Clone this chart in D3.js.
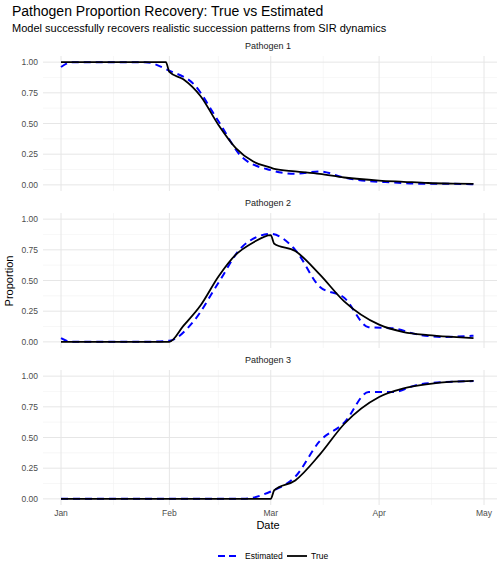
<!DOCTYPE html>
<html><head><meta charset="utf-8">
<script src="https://cdn.jsdelivr.net/npm/d3@7"></script>
<style>body{margin:0;background:#fff;font-family:"Liberation Sans",Arial,sans-serif}</style>
</head><body><svg id="c" width="504" height="576"></svg>
<script>
// data
const pathogens = ["Pathogen 1", "Pathogen 2", "Pathogen 3"];
const trueDates = ["2024-01-01","2024-01-15","2024-01-31","2024-02-01","2024-02-05","2024-02-10","2024-02-15","2024-02-20","2024-02-25","2024-03-01","2024-03-02","2024-03-08","2024-03-15","2024-03-22","2024-04-01","2024-04-08","2024-04-15","2024-04-22","2024-04-28"];
const trueP1 = [1,1,1,0.92,0.86,0.72,0.49,0.3,0.19,0.14,0.13,0.11,0.09,0.06,0.035,0.025,0.015,0.01,0.008];
const trueP2 = [0,0,0,0,0.13,0.30,0.53,0.71,0.81,0.87,0.80,0.74,0.55,0.33,0.14,0.08,0.055,0.04,0.03];
const trueP3 = [0,0,0,0,0,0,0,0,0,0,0.07,0.15,0.36,0.61,0.83,0.90,0.935,0.955,0.962];
const estDates = ["2024-01-01","2024-01-04","2024-01-11","2024-01-18","2024-01-25","2024-02-01","2024-02-08","2024-02-15","2024-02-22","2024-03-01","2024-03-08","2024-03-15","2024-03-22","2024-03-29","2024-04-05","2024-04-12","2024-04-19","2024-04-28"];
const estP1 = [0.96,1,1,1,1,0.93,0.82,0.52,0.22,0.12,0.09,0.11,0.06,0.03,0.02,0.01,0.01,0.005];
const estP2 = [0.03,0,0,0,0,0.01,0.17,0.48,0.78,0.88,0.75,0.45,0.36,0.12,0.11,0.06,0.04,0.05];
const estP3 = [0,0,0,0,0,0,0,0,0,0.06,0.18,0.47,0.62,0.87,0.87,0.93,0.95,0.96];
const xTicks = ["2024-01-01","2024-02-01","2024-03-01","2024-04-01","2024-05-01"];
const xLabels = ["Jan","Feb","Mar","Apr","May"];
const yTicks = [0,0.25,0.5,0.75,1];

const pd = d3.timeParse("%Y-%m-%d");
const trueSeries = [trueP1, trueP2, trueP3];
const estSeries = [estP1, estP2, estP3];
const svg = d3.select("#c");

svg.append("text").attr("x",12).attr("y",16).attr("font-size",14).attr("fill","#000").text("Pathogen Proportion Recovery: True vs Estimated");
svg.append("text").attr("x",12).attr("y",32).attr("font-size",11).attr("fill","#000").text("Model successfully recovers realistic succession patterns from SIR dynamics");

const x = d3.scaleTime().domain([pd("2024-01-01"), pd("2024-05-01")]).range([61, 484]);
const panelTops = [56, 213, 370];
const ph = 135;

pathogens.forEach(function(name, i) {
  const top = panelTops[i];
  const y = d3.scaleLinear().domain([-0.05, 1.05]).range([top + ph, top]);
  const g = svg.append("g");
  g.append("text").attr("x",268).attr("y",top-7).attr("text-anchor","middle").attr("font-size",9).attr("fill","#1a1a1a").text(name);
  // grid
  const minor = [0.125,0.375,0.625,0.875];
  g.selectAll(".ym").data(minor).enter().append("line").attr("x1",43).attr("x2",497)
    .attr("y1",d=>y(d)).attr("y2",d=>y(d)).attr("stroke","#f2f2f2").attr("stroke-width",0.6);
  const xm = ["2024-01-16","2024-02-15","2024-03-16","2024-04-16"].map(pd);
  g.selectAll(".xm").data(xm).enter().append("line").attr("y1",top).attr("y2",top+ph)
    .attr("x1",d=>x(d)).attr("x2",d=>x(d)).attr("stroke","#f2f2f2").attr("stroke-width",0.6);
  g.selectAll(".yg").data(yTicks).enter().append("line").attr("x1",43).attr("x2",497)
    .attr("y1",d=>y(d)).attr("y2",d=>y(d)).attr("stroke","#e6e6e6").attr("stroke-width",1);
  g.selectAll(".xg").data(xTicks.map(pd)).enter().append("line").attr("y1",top).attr("y2",top+ph)
    .attr("x1",d=>x(d)).attr("x2",d=>x(d)).attr("stroke","#e6e6e6").attr("stroke-width",1);
  g.selectAll(".yl").data(yTicks).enter().append("text").attr("x",38).attr("y",d=>y(d)+3)
    .attr("text-anchor","end").attr("font-size",8.5).attr("fill","#4d4d4d").text(d=>d3.format(".2f")(d));

  const line = d3.line().curve(d3.curveMonotoneX).x(d=>x(d[0])).y(d=>y(d[1]));
  const est = estDates.map((d,k)=>[pd(d), estSeries[i][k]]);
  const tru = trueDates.map((d,k)=>[pd(d), trueSeries[i][k]]);
  g.append("path").attr("d", line(est))
    .attr("fill","none").attr("stroke","#0000ff").attr("stroke-width",2).attr("stroke-dasharray","7,5");
  g.append("path").attr("d", line(tru)).attr("fill","none").attr("stroke","#000").attr("stroke-width",1.8);
});

svg.selectAll(".xl").data(xTicks).enter().append("text").attr("x",d=>x(pd(d))).attr("y",516)
  .attr("text-anchor","middle").attr("font-size",8.5).attr("fill","#4d4d4d").text((d,i)=>xLabels[i]);
svg.append("text").attr("x",268).attr("y",529).attr("text-anchor","middle").attr("font-size",11).text("Date");
svg.append("text").attr("transform","translate(13,281) rotate(-90)").attr("text-anchor","middle").attr("font-size",11).text("Proportion");

// legend
const lg = svg.append("g");
lg.append("line").attr("x1",218).attr("x2",240).attr("y1",556).attr("y2",556).attr("stroke","#0000ff").attr("stroke-width",2).attr("stroke-dasharray","7,4");
lg.append("text").attr("x",245).attr("y",559).attr("font-size",8.5).text("Estimated");
lg.append("line").attr("x1",287).attr("x2",307).attr("y1",556).attr("y2",556).attr("stroke","#000").attr("stroke-width",1.8);
lg.append("text").attr("x",311).attr("y",559).attr("font-size",8.5).text("True");
</script></body></html>
